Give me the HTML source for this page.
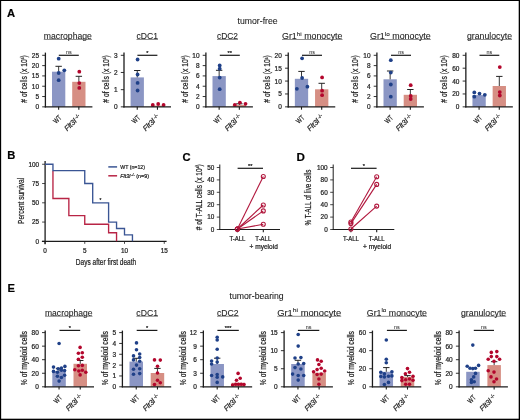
<!DOCTYPE html>
<html><head><meta charset="utf-8"><style>
html,body{margin:0;padding:0;background:#fff;}
svg{display:block;font-family:"Liberation Sans", sans-serif;will-change:transform;filter:blur(0.3px);}
text{stroke:#1e1e1e;stroke-width:0.22px;}
</style></head><body>
<svg width="520" height="420" viewBox="0 0 520 420">
<rect x="0" y="0" width="520" height="420" fill="#fff"/>
<rect x="0" y="0" width="1.15" height="420" fill="#000"/>
<rect x="0" y="0" width="520" height="1.0" fill="#000"/>
<rect x="518.7" y="0" width="1.3" height="420" fill="#000"/>
<rect x="0" y="418.7" width="520" height="1.3" fill="#000"/>
<text x="7.00" y="17.00" font-size="11.2" text-anchor="start" fill="#000" font-weight="bold">A</text>
<text x="7.20" y="158.80" font-size="11.2" text-anchor="start" fill="#000" font-weight="bold">B</text>
<text x="182.40" y="161.00" font-size="11.2" text-anchor="start" fill="#000" font-weight="bold">C</text>
<text x="296.50" y="161.00" font-size="11.6" text-anchor="start" fill="#000" font-weight="bold">D</text>
<text x="7.60" y="292.00" font-size="11.2" text-anchor="start" fill="#000" font-weight="bold">E</text>
<text x="257.6" y="23.9" font-size="8.2" text-anchor="middle" fill="#222" style="stroke-width:0.08px" textLength="40" lengthAdjust="spacingAndGlyphs">tumor-free</text>
<text x="256.6" y="298.6" font-size="8.2" text-anchor="middle" fill="#222" style="stroke-width:0.08px" textLength="54.2" lengthAdjust="spacingAndGlyphs">tumor-bearing</text>
<text x="43.80" y="38.80" font-size="8.2" fill="#222" style="stroke-width:0.08px" textLength="48.10" lengthAdjust="spacingAndGlyphs"><tspan dy="0">macrophage</tspan></text>
<line x1="43.80" y1="39.50" x2="91.90" y2="39.50" stroke="#444" stroke-width="0.6" />
<text x="136.50" y="38.80" font-size="8.2" fill="#222" style="stroke-width:0.08px" textLength="21.50" lengthAdjust="spacingAndGlyphs"><tspan dy="0">cDC1</tspan></text>
<line x1="136.50" y1="39.50" x2="158.00" y2="39.50" stroke="#444" stroke-width="0.6" />
<text x="217.00" y="38.80" font-size="8.2" fill="#222" style="stroke-width:0.08px" textLength="21.00" lengthAdjust="spacingAndGlyphs"><tspan dy="0">cDC2</tspan></text>
<line x1="217.00" y1="39.50" x2="238.00" y2="39.50" stroke="#444" stroke-width="0.6" />
<text x="282.00" y="38.80" font-size="8.2" fill="#222" style="stroke-width:0.08px" textLength="60.50" lengthAdjust="spacingAndGlyphs"><tspan dy="0">Gr1</tspan><tspan font-size="5.90" dy="-3.3">hi</tspan><tspan dy="3.3"> monocyte</tspan></text>
<line x1="282.00" y1="39.50" x2="342.50" y2="39.50" stroke="#444" stroke-width="0.6" />
<text x="370.00" y="38.80" font-size="8.2" fill="#222" style="stroke-width:0.08px" textLength="60.80" lengthAdjust="spacingAndGlyphs"><tspan dy="0">Gr1</tspan><tspan font-size="5.90" dy="-3.3">lo</tspan><tspan dy="3.3"> monocyte</tspan></text>
<line x1="370.00" y1="39.50" x2="430.80" y2="39.50" stroke="#444" stroke-width="0.6" />
<text x="467.00" y="38.80" font-size="8.2" fill="#222" style="stroke-width:0.08px" textLength="45.00" lengthAdjust="spacingAndGlyphs"><tspan dy="0">granulocyte</tspan></text>
<line x1="467.00" y1="39.50" x2="512.00" y2="39.50" stroke="#444" stroke-width="0.6" />
<text x="45.00" y="315.60" font-size="8.2" fill="#222" style="stroke-width:0.08px" textLength="47.50" lengthAdjust="spacingAndGlyphs"><tspan dy="0">macrophage</tspan></text>
<line x1="45.00" y1="316.30" x2="92.50" y2="316.30" stroke="#444" stroke-width="0.6" />
<text x="136.30" y="315.60" font-size="8.2" fill="#222" style="stroke-width:0.08px" textLength="21.70" lengthAdjust="spacingAndGlyphs"><tspan dy="0">cDC1</tspan></text>
<line x1="136.30" y1="316.30" x2="158.00" y2="316.30" stroke="#444" stroke-width="0.6" />
<text x="217.00" y="315.60" font-size="8.2" fill="#222" style="stroke-width:0.08px" textLength="21.70" lengthAdjust="spacingAndGlyphs"><tspan dy="0">cDC2</tspan></text>
<line x1="217.00" y1="316.30" x2="238.70" y2="316.30" stroke="#444" stroke-width="0.6" />
<text x="277.20" y="315.60" font-size="8.2" fill="#222" style="stroke-width:0.08px" textLength="64.00" lengthAdjust="spacingAndGlyphs"><tspan dy="0">Gr1</tspan><tspan font-size="5.90" dy="-3.3">hi</tspan><tspan dy="3.3"> monocyte</tspan></text>
<line x1="277.20" y1="316.30" x2="341.20" y2="316.30" stroke="#444" stroke-width="0.6" />
<text x="366.80" y="315.60" font-size="8.2" fill="#222" style="stroke-width:0.08px" textLength="60.20" lengthAdjust="spacingAndGlyphs"><tspan dy="0">Gr1</tspan><tspan font-size="5.90" dy="-3.3">lo</tspan><tspan dy="3.3"> monocyte</tspan></text>
<line x1="366.80" y1="316.30" x2="427.00" y2="316.30" stroke="#444" stroke-width="0.6" />
<text x="461.00" y="315.60" font-size="8.2" fill="#222" style="stroke-width:0.08px" textLength="45.20" lengthAdjust="spacingAndGlyphs"><tspan dy="0">granulocyte</tspan></text>
<line x1="461.00" y1="316.30" x2="506.20" y2="316.30" stroke="#444" stroke-width="0.6" />
<rect x="52.00" y="71.70" width="13.30" height="35.15" fill="#8b96c4" stroke="none" stroke-width="0"/>
<rect x="72.20" y="81.80" width="13.30" height="25.05" fill="#d68f84" stroke="none" stroke-width="0"/>
<line x1="58.65" y1="71.70" x2="58.65" y2="66.30" stroke="#222" stroke-width="0.9" />
<line x1="55.45" y1="66.30" x2="61.85" y2="66.30" stroke="#222" stroke-width="1.0" />
<line x1="78.85" y1="81.80" x2="78.85" y2="76.30" stroke="#222" stroke-width="0.9" />
<line x1="75.65" y1="76.30" x2="82.05" y2="76.30" stroke="#222" stroke-width="1.0" />
<circle cx="58.70" cy="58.70" r="1.9" fill="#1f4088" stroke="none" stroke-width="0"/>
<circle cx="58.70" cy="73.00" r="1.9" fill="#1f4088" stroke="none" stroke-width="0"/>
<circle cx="58.70" cy="80.20" r="1.9" fill="#1f4088" stroke="none" stroke-width="0"/>
<circle cx="64.30" cy="70.30" r="1.9" fill="#1f4088" stroke="none" stroke-width="0"/>
<circle cx="79.30" cy="71.70" r="1.9" fill="#b3062c" stroke="none" stroke-width="0"/>
<circle cx="79.30" cy="83.10" r="1.9" fill="#b3062c" stroke="none" stroke-width="0"/>
<circle cx="79.30" cy="87.90" r="1.9" fill="#b3062c" stroke="none" stroke-width="0"/>
<line x1="45.40" y1="52.60" x2="45.40" y2="107.45" stroke="#1c1c1c" stroke-width="1.3" />
<line x1="44.80" y1="106.85" x2="92.40" y2="106.85" stroke="#1c1c1c" stroke-width="1.3" />
<line x1="42.20" y1="106.85" x2="45.40" y2="106.85" stroke="#1c1c1c" stroke-width="0.9" />
<text x="39.00" y="109.35" font-size="6.5" text-anchor="end" fill="#1e1e1e">0</text>
<line x1="42.20" y1="96.54" x2="45.40" y2="96.54" stroke="#1c1c1c" stroke-width="0.9" />
<text x="39.00" y="99.04" font-size="6.5" text-anchor="end" fill="#1e1e1e">5</text>
<line x1="42.20" y1="86.23" x2="45.40" y2="86.23" stroke="#1c1c1c" stroke-width="0.9" />
<text x="39.00" y="88.73" font-size="6.5" text-anchor="end" fill="#1e1e1e">10</text>
<line x1="42.20" y1="75.92" x2="45.40" y2="75.92" stroke="#1c1c1c" stroke-width="0.9" />
<text x="39.00" y="78.42" font-size="6.5" text-anchor="end" fill="#1e1e1e">15</text>
<line x1="42.20" y1="65.61" x2="45.40" y2="65.61" stroke="#1c1c1c" stroke-width="0.9" />
<text x="39.00" y="68.11" font-size="6.5" text-anchor="end" fill="#1e1e1e">20</text>
<line x1="42.20" y1="55.30" x2="45.40" y2="55.30" stroke="#1c1c1c" stroke-width="0.9" />
<text x="39.00" y="57.80" font-size="6.5" text-anchor="end" fill="#1e1e1e">25</text>
<line x1="58.65" y1="106.85" x2="58.65" y2="109.65" stroke="#1c1c1c" stroke-width="1.1" />
<line x1="78.85" y1="106.85" x2="78.85" y2="109.65" stroke="#1c1c1c" stroke-width="1.1" />
<line x1="58.80" y1="55.30" x2="78.80" y2="55.30" stroke="#1a1a1a" stroke-width="1.2" />
<text x="68.80" y="53.60" font-size="5.4" text-anchor="middle" fill="#333" style="stroke-width:0.05px">ns</text>
<text x="0" y="0" font-size="9.2" fill="#1e1e1e" text-anchor="middle" textLength="47.5" lengthAdjust="spacingAndGlyphs" transform="translate(26.70,79.00) rotate(-90)"># of cells (x 10<tspan font-size="4.2" dy="-2.6">5</tspan><tspan dy="2.6">)</tspan></text>
<text x="0.00" y="0.00" font-size="7.4" text-anchor="end" fill="#1e1e1e" textLength="8.2" lengthAdjust="spacingAndGlyphs" transform="translate(62.05,118.15) rotate(-45)">WT</text>
<text x="0" y="0" font-size="7.4" text-anchor="end" fill="#1e1e1e" transform="translate(81.45,117.35) rotate(-45)"><tspan font-style="italic">Flt3l</tspan><tspan font-size="5.0" dy="-2.2"> -/-</tspan></text>
<rect x="130.60" y="77.40" width="13.30" height="29.45" fill="#8b96c4" stroke="none" stroke-width="0"/>
<rect x="150.80" y="105.60" width="13.30" height="1.25" fill="#d68f84" stroke="none" stroke-width="0"/>
<line x1="137.25" y1="77.40" x2="137.25" y2="70.50" stroke="#222" stroke-width="0.9" />
<line x1="134.05" y1="70.50" x2="140.45" y2="70.50" stroke="#222" stroke-width="1.0" />
<circle cx="137.60" cy="59.50" r="1.9" fill="#1f4088" stroke="none" stroke-width="0"/>
<circle cx="137.60" cy="74.50" r="1.9" fill="#1f4088" stroke="none" stroke-width="0"/>
<circle cx="137.60" cy="82.90" r="1.9" fill="#1f4088" stroke="none" stroke-width="0"/>
<circle cx="137.60" cy="90.50" r="1.9" fill="#1f4088" stroke="none" stroke-width="0"/>
<circle cx="152.80" cy="105.00" r="1.9" fill="#b3062c" stroke="none" stroke-width="0"/>
<circle cx="158.20" cy="104.00" r="1.9" fill="#b3062c" stroke="none" stroke-width="0"/>
<circle cx="163.60" cy="105.00" r="1.9" fill="#b3062c" stroke="none" stroke-width="0"/>
<line x1="124.00" y1="52.60" x2="124.00" y2="107.45" stroke="#1c1c1c" stroke-width="1.3" />
<line x1="123.40" y1="106.85" x2="171.00" y2="106.85" stroke="#1c1c1c" stroke-width="1.3" />
<line x1="120.80" y1="106.85" x2="124.00" y2="106.85" stroke="#1c1c1c" stroke-width="0.9" />
<text x="117.60" y="109.35" font-size="6.5" text-anchor="end" fill="#1e1e1e">0</text>
<line x1="120.80" y1="89.67" x2="124.00" y2="89.67" stroke="#1c1c1c" stroke-width="0.9" />
<text x="117.60" y="92.17" font-size="6.5" text-anchor="end" fill="#1e1e1e">1</text>
<line x1="120.80" y1="72.48" x2="124.00" y2="72.48" stroke="#1c1c1c" stroke-width="0.9" />
<text x="117.60" y="74.98" font-size="6.5" text-anchor="end" fill="#1e1e1e">2</text>
<line x1="120.80" y1="55.30" x2="124.00" y2="55.30" stroke="#1c1c1c" stroke-width="0.9" />
<text x="117.60" y="57.80" font-size="6.5" text-anchor="end" fill="#1e1e1e">3</text>
<line x1="137.25" y1="106.85" x2="137.25" y2="109.65" stroke="#1c1c1c" stroke-width="1.1" />
<line x1="157.45" y1="106.85" x2="157.45" y2="109.65" stroke="#1c1c1c" stroke-width="1.1" />
<line x1="137.40" y1="55.30" x2="157.40" y2="55.30" stroke="#1a1a1a" stroke-width="1.2" />
<text x="147.40" y="55.00" font-size="5.6" text-anchor="middle" fill="#111">*</text>
<text x="0" y="0" font-size="9.2" fill="#1e1e1e" text-anchor="middle" textLength="47.5" lengthAdjust="spacingAndGlyphs" transform="translate(109.00,79.00) rotate(-90)"># of cells (x 10<tspan font-size="4.2" dy="-2.6">5</tspan><tspan dy="2.6">)</tspan></text>
<text x="0.00" y="0.00" font-size="7.4" text-anchor="end" fill="#1e1e1e" textLength="8.2" lengthAdjust="spacingAndGlyphs" transform="translate(140.65,118.15) rotate(-45)">WT</text>
<text x="0" y="0" font-size="7.4" text-anchor="end" fill="#1e1e1e" transform="translate(160.05,117.35) rotate(-45)"><tspan font-style="italic">Flt3l</tspan><tspan font-size="5.0" dy="-2.2"> -/-</tspan></text>
<rect x="212.50" y="76.10" width="13.30" height="30.75" fill="#8b96c4" stroke="none" stroke-width="0"/>
<rect x="232.70" y="105.00" width="13.30" height="1.85" fill="#d68f84" stroke="none" stroke-width="0"/>
<line x1="219.15" y1="76.10" x2="219.15" y2="70.30" stroke="#222" stroke-width="0.9" />
<line x1="215.95" y1="70.30" x2="222.35" y2="70.30" stroke="#222" stroke-width="1.0" />
<line x1="239.35" y1="105.00" x2="239.35" y2="103.80" stroke="#222" stroke-width="0.9" />
<line x1="236.15" y1="103.80" x2="242.55" y2="103.80" stroke="#222" stroke-width="1.0" />
<circle cx="219.70" cy="65.40" r="1.9" fill="#1f4088" stroke="none" stroke-width="0"/>
<circle cx="219.70" cy="68.70" r="1.9" fill="#1f4088" stroke="none" stroke-width="0"/>
<circle cx="219.70" cy="77.60" r="1.9" fill="#1f4088" stroke="none" stroke-width="0"/>
<circle cx="219.70" cy="89.20" r="1.9" fill="#1f4088" stroke="none" stroke-width="0"/>
<circle cx="234.80" cy="104.80" r="1.9" fill="#b3062c" stroke="none" stroke-width="0"/>
<circle cx="239.90" cy="102.60" r="1.9" fill="#b3062c" stroke="none" stroke-width="0"/>
<circle cx="245.50" cy="103.80" r="1.9" fill="#b3062c" stroke="none" stroke-width="0"/>
<line x1="205.90" y1="52.60" x2="205.90" y2="107.45" stroke="#1c1c1c" stroke-width="1.3" />
<line x1="205.30" y1="106.85" x2="252.90" y2="106.85" stroke="#1c1c1c" stroke-width="1.3" />
<line x1="202.70" y1="106.85" x2="205.90" y2="106.85" stroke="#1c1c1c" stroke-width="0.9" />
<text x="199.50" y="109.35" font-size="6.5" text-anchor="end" fill="#1e1e1e">0</text>
<line x1="202.70" y1="96.54" x2="205.90" y2="96.54" stroke="#1c1c1c" stroke-width="0.9" />
<text x="199.50" y="99.04" font-size="6.5" text-anchor="end" fill="#1e1e1e">2</text>
<line x1="202.70" y1="86.23" x2="205.90" y2="86.23" stroke="#1c1c1c" stroke-width="0.9" />
<text x="199.50" y="88.73" font-size="6.5" text-anchor="end" fill="#1e1e1e">4</text>
<line x1="202.70" y1="75.92" x2="205.90" y2="75.92" stroke="#1c1c1c" stroke-width="0.9" />
<text x="199.50" y="78.42" font-size="6.5" text-anchor="end" fill="#1e1e1e">6</text>
<line x1="202.70" y1="65.61" x2="205.90" y2="65.61" stroke="#1c1c1c" stroke-width="0.9" />
<text x="199.50" y="68.11" font-size="6.5" text-anchor="end" fill="#1e1e1e">8</text>
<line x1="202.70" y1="55.30" x2="205.90" y2="55.30" stroke="#1c1c1c" stroke-width="0.9" />
<text x="199.50" y="57.80" font-size="6.5" text-anchor="end" fill="#1e1e1e">10</text>
<line x1="219.15" y1="106.85" x2="219.15" y2="109.65" stroke="#1c1c1c" stroke-width="1.1" />
<line x1="239.35" y1="106.85" x2="239.35" y2="109.65" stroke="#1c1c1c" stroke-width="1.1" />
<line x1="219.80" y1="55.30" x2="239.80" y2="55.30" stroke="#1a1a1a" stroke-width="1.2" />
<text x="229.80" y="55.00" font-size="5.6" text-anchor="middle" fill="#111">**</text>
<text x="0" y="0" font-size="9.2" fill="#1e1e1e" text-anchor="middle" textLength="47.5" lengthAdjust="spacingAndGlyphs" transform="translate(187.80,79.00) rotate(-90)"># of cells (x 10<tspan font-size="4.2" dy="-2.6">5</tspan><tspan dy="2.6">)</tspan></text>
<text x="0.00" y="0.00" font-size="7.4" text-anchor="end" fill="#1e1e1e" textLength="8.2" lengthAdjust="spacingAndGlyphs" transform="translate(222.55,118.15) rotate(-45)">WT</text>
<text x="0" y="0" font-size="7.4" text-anchor="end" fill="#1e1e1e" transform="translate(241.95,117.35) rotate(-45)"><tspan font-style="italic">Flt3l</tspan><tspan font-size="5.0" dy="-2.2"> -/-</tspan></text>
<rect x="294.85" y="78.80" width="13.30" height="28.05" fill="#8b96c4" stroke="none" stroke-width="0"/>
<rect x="315.05" y="89.30" width="13.30" height="17.55" fill="#d68f84" stroke="none" stroke-width="0"/>
<line x1="301.50" y1="78.80" x2="301.50" y2="71.40" stroke="#222" stroke-width="0.9" />
<line x1="298.30" y1="71.40" x2="304.70" y2="71.40" stroke="#222" stroke-width="1.0" />
<line x1="321.70" y1="89.30" x2="321.70" y2="83.30" stroke="#222" stroke-width="0.9" />
<line x1="318.50" y1="83.30" x2="324.90" y2="83.30" stroke="#222" stroke-width="1.0" />
<circle cx="302.10" cy="58.30" r="1.9" fill="#1f4088" stroke="none" stroke-width="0"/>
<circle cx="302.10" cy="78.00" r="1.9" fill="#1f4088" stroke="none" stroke-width="0"/>
<circle cx="296.90" cy="88.80" r="1.9" fill="#1f4088" stroke="none" stroke-width="0"/>
<circle cx="307.40" cy="86.70" r="1.9" fill="#1f4088" stroke="none" stroke-width="0"/>
<circle cx="322.10" cy="77.40" r="1.9" fill="#b3062c" stroke="none" stroke-width="0"/>
<circle cx="322.10" cy="90.70" r="1.9" fill="#b3062c" stroke="none" stroke-width="0"/>
<circle cx="322.10" cy="95.20" r="1.9" fill="#b3062c" stroke="none" stroke-width="0"/>
<line x1="288.25" y1="52.60" x2="288.25" y2="107.45" stroke="#1c1c1c" stroke-width="1.3" />
<line x1="287.65" y1="106.85" x2="335.25" y2="106.85" stroke="#1c1c1c" stroke-width="1.3" />
<line x1="285.05" y1="106.85" x2="288.25" y2="106.85" stroke="#1c1c1c" stroke-width="0.9" />
<text x="281.85" y="109.35" font-size="6.5" text-anchor="end" fill="#1e1e1e">0</text>
<line x1="285.05" y1="93.96" x2="288.25" y2="93.96" stroke="#1c1c1c" stroke-width="0.9" />
<text x="281.85" y="96.46" font-size="6.5" text-anchor="end" fill="#1e1e1e">5</text>
<line x1="285.05" y1="81.07" x2="288.25" y2="81.07" stroke="#1c1c1c" stroke-width="0.9" />
<text x="281.85" y="83.57" font-size="6.5" text-anchor="end" fill="#1e1e1e">10</text>
<line x1="285.05" y1="68.19" x2="288.25" y2="68.19" stroke="#1c1c1c" stroke-width="0.9" />
<text x="281.85" y="70.69" font-size="6.5" text-anchor="end" fill="#1e1e1e">15</text>
<line x1="285.05" y1="55.30" x2="288.25" y2="55.30" stroke="#1c1c1c" stroke-width="0.9" />
<text x="281.85" y="57.80" font-size="6.5" text-anchor="end" fill="#1e1e1e">20</text>
<line x1="301.50" y1="106.85" x2="301.50" y2="109.65" stroke="#1c1c1c" stroke-width="1.1" />
<line x1="321.70" y1="106.85" x2="321.70" y2="109.65" stroke="#1c1c1c" stroke-width="1.1" />
<line x1="302.00" y1="55.30" x2="322.00" y2="55.30" stroke="#1a1a1a" stroke-width="1.2" />
<text x="312.00" y="53.60" font-size="5.4" text-anchor="middle" fill="#333" style="stroke-width:0.05px">ns</text>
<text x="0" y="0" font-size="9.2" fill="#1e1e1e" text-anchor="middle" textLength="47.5" lengthAdjust="spacingAndGlyphs" transform="translate(270.20,79.00) rotate(-90)"># of cells (x 10<tspan font-size="4.2" dy="-2.6">5</tspan><tspan dy="2.6">)</tspan></text>
<text x="0.00" y="0.00" font-size="7.4" text-anchor="end" fill="#1e1e1e" textLength="8.2" lengthAdjust="spacingAndGlyphs" transform="translate(304.90,118.15) rotate(-45)">WT</text>
<text x="0" y="0" font-size="7.4" text-anchor="end" fill="#1e1e1e" transform="translate(324.30,117.35) rotate(-45)"><tspan font-style="italic">Flt3l</tspan><tspan font-size="5.0" dy="-2.2"> -/-</tspan></text>
<rect x="383.50" y="79.30" width="13.30" height="27.55" fill="#8b96c4" stroke="none" stroke-width="0"/>
<rect x="403.70" y="94.80" width="13.30" height="12.05" fill="#d68f84" stroke="none" stroke-width="0"/>
<line x1="390.15" y1="79.30" x2="390.15" y2="71.00" stroke="#222" stroke-width="0.9" />
<line x1="386.95" y1="71.00" x2="393.35" y2="71.00" stroke="#222" stroke-width="1.0" />
<line x1="410.35" y1="94.80" x2="410.35" y2="89.50" stroke="#222" stroke-width="0.9" />
<line x1="407.15" y1="89.50" x2="413.55" y2="89.50" stroke="#222" stroke-width="1.0" />
<circle cx="390.80" cy="60.20" r="1.9" fill="#1f4088" stroke="none" stroke-width="0"/>
<circle cx="390.80" cy="72.60" r="1.9" fill="#1f4088" stroke="none" stroke-width="0"/>
<circle cx="390.80" cy="84.50" r="1.9" fill="#1f4088" stroke="none" stroke-width="0"/>
<circle cx="390.80" cy="96.70" r="1.9" fill="#1f4088" stroke="none" stroke-width="0"/>
<circle cx="410.70" cy="85.20" r="1.9" fill="#b3062c" stroke="none" stroke-width="0"/>
<circle cx="410.70" cy="96.00" r="1.9" fill="#b3062c" stroke="none" stroke-width="0"/>
<circle cx="410.70" cy="99.00" r="1.9" fill="#b3062c" stroke="none" stroke-width="0"/>
<line x1="376.90" y1="52.60" x2="376.90" y2="107.45" stroke="#1c1c1c" stroke-width="1.3" />
<line x1="376.30" y1="106.85" x2="423.90" y2="106.85" stroke="#1c1c1c" stroke-width="1.3" />
<line x1="373.70" y1="106.85" x2="376.90" y2="106.85" stroke="#1c1c1c" stroke-width="0.9" />
<text x="370.50" y="109.35" font-size="6.5" text-anchor="end" fill="#1e1e1e">0</text>
<line x1="373.70" y1="96.54" x2="376.90" y2="96.54" stroke="#1c1c1c" stroke-width="0.9" />
<text x="370.50" y="99.04" font-size="6.5" text-anchor="end" fill="#1e1e1e">2</text>
<line x1="373.70" y1="86.23" x2="376.90" y2="86.23" stroke="#1c1c1c" stroke-width="0.9" />
<text x="370.50" y="88.73" font-size="6.5" text-anchor="end" fill="#1e1e1e">4</text>
<line x1="373.70" y1="75.92" x2="376.90" y2="75.92" stroke="#1c1c1c" stroke-width="0.9" />
<text x="370.50" y="78.42" font-size="6.5" text-anchor="end" fill="#1e1e1e">6</text>
<line x1="373.70" y1="65.61" x2="376.90" y2="65.61" stroke="#1c1c1c" stroke-width="0.9" />
<text x="370.50" y="68.11" font-size="6.5" text-anchor="end" fill="#1e1e1e">8</text>
<line x1="373.70" y1="55.30" x2="376.90" y2="55.30" stroke="#1c1c1c" stroke-width="0.9" />
<text x="370.50" y="57.80" font-size="6.5" text-anchor="end" fill="#1e1e1e">10</text>
<line x1="390.15" y1="106.85" x2="390.15" y2="109.65" stroke="#1c1c1c" stroke-width="1.1" />
<line x1="410.35" y1="106.85" x2="410.35" y2="109.65" stroke="#1c1c1c" stroke-width="1.1" />
<line x1="391.00" y1="55.30" x2="411.00" y2="55.30" stroke="#1a1a1a" stroke-width="1.2" />
<text x="401.00" y="53.60" font-size="5.4" text-anchor="middle" fill="#333" style="stroke-width:0.05px">ns</text>
<text x="0" y="0" font-size="9.2" fill="#1e1e1e" text-anchor="middle" textLength="47.5" lengthAdjust="spacingAndGlyphs" transform="translate(358.20,79.00) rotate(-90)"># of cells (x 10<tspan font-size="4.2" dy="-2.6">5</tspan><tspan dy="2.6">)</tspan></text>
<text x="0.00" y="0.00" font-size="7.4" text-anchor="end" fill="#1e1e1e" textLength="8.2" lengthAdjust="spacingAndGlyphs" transform="translate(393.55,118.15) rotate(-45)">WT</text>
<text x="0" y="0" font-size="7.4" text-anchor="end" fill="#1e1e1e" transform="translate(412.95,117.35) rotate(-45)"><tspan font-style="italic">Flt3l</tspan><tspan font-size="5.0" dy="-2.2"> -/-</tspan></text>
<rect x="472.45" y="95.10" width="13.30" height="11.75" fill="#8b96c4" stroke="none" stroke-width="0"/>
<rect x="492.65" y="86.00" width="13.30" height="20.85" fill="#d68f84" stroke="none" stroke-width="0"/>
<line x1="499.30" y1="86.00" x2="499.30" y2="76.40" stroke="#222" stroke-width="0.9" />
<line x1="496.10" y1="76.40" x2="502.50" y2="76.40" stroke="#222" stroke-width="1.0" />
<circle cx="474.30" cy="92.40" r="1.9" fill="#1f4088" stroke="none" stroke-width="0"/>
<circle cx="474.30" cy="96.70" r="1.9" fill="#1f4088" stroke="none" stroke-width="0"/>
<circle cx="479.50" cy="93.60" r="1.9" fill="#1f4088" stroke="none" stroke-width="0"/>
<circle cx="484.80" cy="94.80" r="1.9" fill="#1f4088" stroke="none" stroke-width="0"/>
<circle cx="499.80" cy="67.10" r="1.9" fill="#b3062c" stroke="none" stroke-width="0"/>
<circle cx="499.80" cy="92.10" r="1.9" fill="#b3062c" stroke="none" stroke-width="0"/>
<circle cx="499.80" cy="95.50" r="1.9" fill="#b3062c" stroke="none" stroke-width="0"/>
<line x1="465.85" y1="52.60" x2="465.85" y2="107.45" stroke="#1c1c1c" stroke-width="1.3" />
<line x1="465.25" y1="106.85" x2="512.85" y2="106.85" stroke="#1c1c1c" stroke-width="1.3" />
<line x1="462.65" y1="106.85" x2="465.85" y2="106.85" stroke="#1c1c1c" stroke-width="0.9" />
<text x="459.45" y="109.35" font-size="6.5" text-anchor="end" fill="#1e1e1e">0</text>
<line x1="462.65" y1="93.96" x2="465.85" y2="93.96" stroke="#1c1c1c" stroke-width="0.9" />
<text x="459.45" y="96.46" font-size="6.5" text-anchor="end" fill="#1e1e1e">20</text>
<line x1="462.65" y1="81.07" x2="465.85" y2="81.07" stroke="#1c1c1c" stroke-width="0.9" />
<text x="459.45" y="83.57" font-size="6.5" text-anchor="end" fill="#1e1e1e">40</text>
<line x1="462.65" y1="68.19" x2="465.85" y2="68.19" stroke="#1c1c1c" stroke-width="0.9" />
<text x="459.45" y="70.69" font-size="6.5" text-anchor="end" fill="#1e1e1e">60</text>
<line x1="462.65" y1="55.30" x2="465.85" y2="55.30" stroke="#1c1c1c" stroke-width="0.9" />
<text x="459.45" y="57.80" font-size="6.5" text-anchor="end" fill="#1e1e1e">80</text>
<line x1="479.10" y1="106.85" x2="479.10" y2="109.65" stroke="#1c1c1c" stroke-width="1.1" />
<line x1="499.30" y1="106.85" x2="499.30" y2="109.65" stroke="#1c1c1c" stroke-width="1.1" />
<line x1="479.50" y1="55.30" x2="499.30" y2="55.30" stroke="#1a1a1a" stroke-width="1.2" />
<text x="489.40" y="53.60" font-size="5.4" text-anchor="middle" fill="#333" style="stroke-width:0.05px">ns</text>
<text x="0" y="0" font-size="9.2" fill="#1e1e1e" text-anchor="middle" textLength="47.5" lengthAdjust="spacingAndGlyphs" transform="translate(447.15,79.00) rotate(-90)"># of cells (x 10<tspan font-size="4.2" dy="-2.6">5</tspan><tspan dy="2.6">)</tspan></text>
<text x="0.00" y="0.00" font-size="7.4" text-anchor="end" fill="#1e1e1e" textLength="8.2" lengthAdjust="spacingAndGlyphs" transform="translate(482.50,118.15) rotate(-45)">WT</text>
<text x="0" y="0" font-size="7.4" text-anchor="end" fill="#1e1e1e" transform="translate(501.90,117.35) rotate(-45)"><tspan font-style="italic">Flt3l</tspan><tspan font-size="5.0" dy="-2.2"> -/-</tspan></text>
<rect x="52.30" y="371.00" width="13.50" height="15.80" fill="#8b96c4" stroke="none" stroke-width="0"/>
<rect x="73.50" y="363.80" width="13.50" height="23.00" fill="#d68f84" stroke="none" stroke-width="0"/>
<line x1="59.05" y1="371.00" x2="59.05" y2="368.40" stroke="#222" stroke-width="0.9" />
<line x1="55.85" y1="368.40" x2="62.25" y2="368.40" stroke="#222" stroke-width="1.0" />
<line x1="80.25" y1="363.80" x2="80.25" y2="360.50" stroke="#222" stroke-width="0.9" />
<line x1="77.05" y1="360.50" x2="83.45" y2="360.50" stroke="#222" stroke-width="1.0" />
<circle cx="59.10" cy="343.50" r="1.8" fill="#1f4088" stroke="none" stroke-width="0"/>
<circle cx="53.50" cy="367.10" r="1.8" fill="#1f4088" stroke="none" stroke-width="0"/>
<circle cx="58.10" cy="368.80" r="1.8" fill="#1f4088" stroke="none" stroke-width="0"/>
<circle cx="61.40" cy="368.00" r="1.8" fill="#1f4088" stroke="none" stroke-width="0"/>
<circle cx="64.90" cy="366.40" r="1.8" fill="#1f4088" stroke="none" stroke-width="0"/>
<circle cx="53.50" cy="371.40" r="1.8" fill="#1f4088" stroke="none" stroke-width="0"/>
<circle cx="57.40" cy="372.30" r="1.8" fill="#1f4088" stroke="none" stroke-width="0"/>
<circle cx="61.40" cy="370.30" r="1.8" fill="#1f4088" stroke="none" stroke-width="0"/>
<circle cx="64.60" cy="370.60" r="1.8" fill="#1f4088" stroke="none" stroke-width="0"/>
<circle cx="57.40" cy="376.20" r="1.8" fill="#1f4088" stroke="none" stroke-width="0"/>
<circle cx="61.40" cy="377.50" r="1.8" fill="#1f4088" stroke="none" stroke-width="0"/>
<circle cx="64.60" cy="375.30" r="1.8" fill="#1f4088" stroke="none" stroke-width="0"/>
<circle cx="59.10" cy="381.10" r="1.8" fill="#1f4088" stroke="none" stroke-width="0"/>
<circle cx="80.10" cy="347.40" r="1.8" fill="#b3062c" stroke="none" stroke-width="0"/>
<circle cx="78.40" cy="353.30" r="1.8" fill="#b3062c" stroke="none" stroke-width="0"/>
<circle cx="82.30" cy="352.70" r="1.8" fill="#b3062c" stroke="none" stroke-width="0"/>
<circle cx="82.30" cy="357.30" r="1.8" fill="#b3062c" stroke="none" stroke-width="0"/>
<circle cx="78.40" cy="359.20" r="1.8" fill="#b3062c" stroke="none" stroke-width="0"/>
<circle cx="78.40" cy="365.80" r="1.8" fill="#b3062c" stroke="none" stroke-width="0"/>
<circle cx="82.30" cy="365.40" r="1.8" fill="#b3062c" stroke="none" stroke-width="0"/>
<circle cx="74.80" cy="369.70" r="1.8" fill="#b3062c" stroke="none" stroke-width="0"/>
<circle cx="78.80" cy="371.00" r="1.8" fill="#b3062c" stroke="none" stroke-width="0"/>
<circle cx="82.30" cy="370.30" r="1.8" fill="#b3062c" stroke="none" stroke-width="0"/>
<circle cx="85.80" cy="372.30" r="1.8" fill="#b3062c" stroke="none" stroke-width="0"/>
<circle cx="80.10" cy="374.90" r="1.8" fill="#b3062c" stroke="none" stroke-width="0"/>
<line x1="45.20" y1="330.60" x2="45.20" y2="387.40" stroke="#1c1c1c" stroke-width="1.3" />
<line x1="44.60" y1="386.80" x2="94.00" y2="386.80" stroke="#1c1c1c" stroke-width="1.3" />
<line x1="42.00" y1="386.80" x2="45.20" y2="386.80" stroke="#1c1c1c" stroke-width="0.9" />
<text x="38.80" y="389.30" font-size="6.5" text-anchor="end" fill="#1e1e1e">0</text>
<line x1="42.00" y1="373.25" x2="45.20" y2="373.25" stroke="#1c1c1c" stroke-width="0.9" />
<text x="38.80" y="375.75" font-size="6.5" text-anchor="end" fill="#1e1e1e">20</text>
<line x1="42.00" y1="359.70" x2="45.20" y2="359.70" stroke="#1c1c1c" stroke-width="0.9" />
<text x="38.80" y="362.20" font-size="6.5" text-anchor="end" fill="#1e1e1e">40</text>
<line x1="42.00" y1="346.15" x2="45.20" y2="346.15" stroke="#1c1c1c" stroke-width="0.9" />
<text x="38.80" y="348.65" font-size="6.5" text-anchor="end" fill="#1e1e1e">60</text>
<line x1="42.00" y1="332.60" x2="45.20" y2="332.60" stroke="#1c1c1c" stroke-width="0.9" />
<text x="38.80" y="335.10" font-size="6.5" text-anchor="end" fill="#1e1e1e">80</text>
<line x1="59.05" y1="386.80" x2="59.05" y2="389.60" stroke="#1c1c1c" stroke-width="1.1" />
<line x1="80.25" y1="386.80" x2="80.25" y2="389.60" stroke="#1c1c1c" stroke-width="1.1" />
<line x1="59.50" y1="330.40" x2="80.20" y2="330.40" stroke="#1a1a1a" stroke-width="1.2" />
<text x="69.85" y="330.10" font-size="5.6" text-anchor="middle" fill="#111">*</text>
<text x="0" y="0" font-size="8.4" fill="#1e1e1e" text-anchor="middle" textLength="54" lengthAdjust="spacingAndGlyphs" transform="translate(27.00,358.20) rotate(-90)">% of myeloid cells</text>
<text x="0.00" y="0.00" font-size="7.4" text-anchor="end" fill="#1e1e1e" textLength="8.2" lengthAdjust="spacingAndGlyphs" transform="translate(62.45,398.10) rotate(-45)">WT</text>
<text x="0" y="0" font-size="7.4" text-anchor="end" fill="#1e1e1e" transform="translate(82.85,397.30) rotate(-45)"><tspan font-style="italic">Flt3l</tspan><tspan font-size="5.0" dy="-2.2"> -/-</tspan></text>
<rect x="129.50" y="361.60" width="13.50" height="25.20" fill="#8b96c4" stroke="none" stroke-width="0"/>
<rect x="150.70" y="373.00" width="13.50" height="13.80" fill="#d68f84" stroke="none" stroke-width="0"/>
<line x1="136.25" y1="361.60" x2="136.25" y2="358.30" stroke="#222" stroke-width="0.9" />
<line x1="133.05" y1="358.30" x2="139.45" y2="358.30" stroke="#222" stroke-width="1.0" />
<line x1="157.45" y1="373.00" x2="157.45" y2="368.40" stroke="#222" stroke-width="0.9" />
<line x1="154.25" y1="368.40" x2="160.65" y2="368.40" stroke="#222" stroke-width="1.0" />
<circle cx="136.50" cy="342.90" r="1.8" fill="#1f4088" stroke="none" stroke-width="0"/>
<circle cx="136.50" cy="349.70" r="1.8" fill="#1f4088" stroke="none" stroke-width="0"/>
<circle cx="139.70" cy="354.00" r="1.8" fill="#1f4088" stroke="none" stroke-width="0"/>
<circle cx="133.50" cy="355.90" r="1.8" fill="#1f4088" stroke="none" stroke-width="0"/>
<circle cx="139.70" cy="357.50" r="1.8" fill="#1f4088" stroke="none" stroke-width="0"/>
<circle cx="133.50" cy="359.90" r="1.8" fill="#1f4088" stroke="none" stroke-width="0"/>
<circle cx="139.70" cy="361.20" r="1.8" fill="#1f4088" stroke="none" stroke-width="0"/>
<circle cx="136.50" cy="365.10" r="1.8" fill="#1f4088" stroke="none" stroke-width="0"/>
<circle cx="133.50" cy="369.30" r="1.8" fill="#1f4088" stroke="none" stroke-width="0"/>
<circle cx="139.70" cy="368.80" r="1.8" fill="#1f4088" stroke="none" stroke-width="0"/>
<circle cx="133.50" cy="374.30" r="1.8" fill="#1f4088" stroke="none" stroke-width="0"/>
<circle cx="139.70" cy="373.60" r="1.8" fill="#1f4088" stroke="none" stroke-width="0"/>
<circle cx="154.50" cy="359.90" r="1.8" fill="#b3062c" stroke="none" stroke-width="0"/>
<circle cx="160.30" cy="360.10" r="1.8" fill="#b3062c" stroke="none" stroke-width="0"/>
<circle cx="157.50" cy="366.20" r="1.8" fill="#b3062c" stroke="none" stroke-width="0"/>
<circle cx="157.50" cy="373.00" r="1.8" fill="#b3062c" stroke="none" stroke-width="0"/>
<circle cx="157.50" cy="380.20" r="1.8" fill="#b3062c" stroke="none" stroke-width="0"/>
<circle cx="160.30" cy="382.80" r="1.8" fill="#b3062c" stroke="none" stroke-width="0"/>
<circle cx="154.50" cy="384.50" r="1.8" fill="#b3062c" stroke="none" stroke-width="0"/>
<line x1="122.40" y1="330.60" x2="122.40" y2="387.40" stroke="#1c1c1c" stroke-width="1.3" />
<line x1="121.80" y1="386.80" x2="171.20" y2="386.80" stroke="#1c1c1c" stroke-width="1.3" />
<line x1="119.20" y1="386.80" x2="122.40" y2="386.80" stroke="#1c1c1c" stroke-width="0.9" />
<text x="116.00" y="389.30" font-size="6.5" text-anchor="end" fill="#1e1e1e">0</text>
<line x1="119.20" y1="375.96" x2="122.40" y2="375.96" stroke="#1c1c1c" stroke-width="0.9" />
<text x="116.00" y="378.46" font-size="6.5" text-anchor="end" fill="#1e1e1e">1</text>
<line x1="119.20" y1="365.12" x2="122.40" y2="365.12" stroke="#1c1c1c" stroke-width="0.9" />
<text x="116.00" y="367.62" font-size="6.5" text-anchor="end" fill="#1e1e1e">2</text>
<line x1="119.20" y1="354.28" x2="122.40" y2="354.28" stroke="#1c1c1c" stroke-width="0.9" />
<text x="116.00" y="356.78" font-size="6.5" text-anchor="end" fill="#1e1e1e">3</text>
<line x1="119.20" y1="343.44" x2="122.40" y2="343.44" stroke="#1c1c1c" stroke-width="0.9" />
<text x="116.00" y="345.94" font-size="6.5" text-anchor="end" fill="#1e1e1e">4</text>
<line x1="119.20" y1="332.60" x2="122.40" y2="332.60" stroke="#1c1c1c" stroke-width="0.9" />
<text x="116.00" y="335.10" font-size="6.5" text-anchor="end" fill="#1e1e1e">5</text>
<line x1="136.25" y1="386.80" x2="136.25" y2="389.60" stroke="#1c1c1c" stroke-width="1.1" />
<line x1="157.45" y1="386.80" x2="157.45" y2="389.60" stroke="#1c1c1c" stroke-width="1.1" />
<line x1="136.70" y1="330.40" x2="157.40" y2="330.40" stroke="#1a1a1a" stroke-width="1.2" />
<text x="147.05" y="330.10" font-size="5.6" text-anchor="middle" fill="#111">*</text>
<text x="0" y="0" font-size="8.4" fill="#1e1e1e" text-anchor="middle" textLength="54" lengthAdjust="spacingAndGlyphs" transform="translate(107.50,358.20) rotate(-90)">% of myeloid cells</text>
<text x="0.00" y="0.00" font-size="7.4" text-anchor="end" fill="#1e1e1e" textLength="8.2" lengthAdjust="spacingAndGlyphs" transform="translate(139.65,398.10) rotate(-45)">WT</text>
<text x="0" y="0" font-size="7.4" text-anchor="end" fill="#1e1e1e" transform="translate(160.05,397.30) rotate(-45)"><tspan font-style="italic">Flt3l</tspan><tspan font-size="5.0" dy="-2.2"> -/-</tspan></text>
<rect x="210.45" y="364.00" width="13.50" height="22.80" fill="#8b96c4" stroke="none" stroke-width="0"/>
<rect x="231.65" y="382.80" width="13.50" height="4.00" fill="#d68f84" stroke="none" stroke-width="0"/>
<line x1="217.20" y1="364.00" x2="217.20" y2="358.20" stroke="#222" stroke-width="0.9" />
<line x1="214.00" y1="358.20" x2="220.40" y2="358.20" stroke="#222" stroke-width="1.0" />
<circle cx="217.20" cy="337.20" r="1.8" fill="#1f4088" stroke="none" stroke-width="0"/>
<circle cx="217.20" cy="340.00" r="1.8" fill="#1f4088" stroke="none" stroke-width="0"/>
<circle cx="217.20" cy="349.30" r="1.8" fill="#1f4088" stroke="none" stroke-width="0"/>
<circle cx="217.20" cy="358.00" r="1.8" fill="#1f4088" stroke="none" stroke-width="0"/>
<circle cx="211.60" cy="361.00" r="1.8" fill="#1f4088" stroke="none" stroke-width="0"/>
<circle cx="211.60" cy="364.00" r="1.8" fill="#1f4088" stroke="none" stroke-width="0"/>
<circle cx="217.20" cy="362.10" r="1.8" fill="#1f4088" stroke="none" stroke-width="0"/>
<circle cx="211.60" cy="375.50" r="1.8" fill="#1f4088" stroke="none" stroke-width="0"/>
<circle cx="217.20" cy="374.50" r="1.8" fill="#1f4088" stroke="none" stroke-width="0"/>
<circle cx="217.20" cy="377.30" r="1.8" fill="#1f4088" stroke="none" stroke-width="0"/>
<circle cx="222.70" cy="376.90" r="1.8" fill="#1f4088" stroke="none" stroke-width="0"/>
<circle cx="217.20" cy="382.40" r="1.8" fill="#1f4088" stroke="none" stroke-width="0"/>
<circle cx="238.10" cy="373.40" r="1.8" fill="#b3062c" stroke="none" stroke-width="0"/>
<circle cx="240.20" cy="378.30" r="1.8" fill="#b3062c" stroke="none" stroke-width="0"/>
<circle cx="236.50" cy="380.30" r="1.8" fill="#b3062c" stroke="none" stroke-width="0"/>
<circle cx="232.60" cy="385.00" r="1.8" fill="#b3062c" stroke="none" stroke-width="0"/>
<circle cx="235.70" cy="384.20" r="1.8" fill="#b3062c" stroke="none" stroke-width="0"/>
<circle cx="238.40" cy="384.20" r="1.8" fill="#b3062c" stroke="none" stroke-width="0"/>
<circle cx="241.20" cy="384.20" r="1.8" fill="#b3062c" stroke="none" stroke-width="0"/>
<circle cx="244.00" cy="384.50" r="1.8" fill="#b3062c" stroke="none" stroke-width="0"/>
<line x1="203.35" y1="330.60" x2="203.35" y2="387.40" stroke="#1c1c1c" stroke-width="1.3" />
<line x1="202.75" y1="386.80" x2="252.15" y2="386.80" stroke="#1c1c1c" stroke-width="1.3" />
<line x1="200.15" y1="386.80" x2="203.35" y2="386.80" stroke="#1c1c1c" stroke-width="0.9" />
<text x="196.95" y="389.30" font-size="6.5" text-anchor="end" fill="#1e1e1e">0</text>
<line x1="200.15" y1="373.25" x2="203.35" y2="373.25" stroke="#1c1c1c" stroke-width="0.9" />
<text x="196.95" y="375.75" font-size="6.5" text-anchor="end" fill="#1e1e1e">3</text>
<line x1="200.15" y1="359.70" x2="203.35" y2="359.70" stroke="#1c1c1c" stroke-width="0.9" />
<text x="196.95" y="362.20" font-size="6.5" text-anchor="end" fill="#1e1e1e">6</text>
<line x1="200.15" y1="346.15" x2="203.35" y2="346.15" stroke="#1c1c1c" stroke-width="0.9" />
<text x="196.95" y="348.65" font-size="6.5" text-anchor="end" fill="#1e1e1e">9</text>
<line x1="200.15" y1="332.60" x2="203.35" y2="332.60" stroke="#1c1c1c" stroke-width="0.9" />
<text x="196.95" y="335.10" font-size="6.5" text-anchor="end" fill="#1e1e1e">12</text>
<line x1="217.20" y1="386.80" x2="217.20" y2="389.60" stroke="#1c1c1c" stroke-width="1.1" />
<line x1="238.40" y1="386.80" x2="238.40" y2="389.60" stroke="#1c1c1c" stroke-width="1.1" />
<line x1="217.40" y1="330.40" x2="238.80" y2="330.40" stroke="#1a1a1a" stroke-width="1.2" />
<text x="228.10" y="330.10" font-size="5.6" text-anchor="middle" fill="#111">***</text>
<text x="0" y="0" font-size="8.4" fill="#1e1e1e" text-anchor="middle" textLength="54" lengthAdjust="spacingAndGlyphs" transform="translate(186.35,358.20) rotate(-90)">% of myeloid cells</text>
<text x="0.00" y="0.00" font-size="7.4" text-anchor="end" fill="#1e1e1e" textLength="8.2" lengthAdjust="spacingAndGlyphs" transform="translate(220.60,398.10) rotate(-45)">WT</text>
<text x="0" y="0" font-size="7.4" text-anchor="end" fill="#1e1e1e" transform="translate(241.00,397.30) rotate(-45)"><tspan font-style="italic">Flt3l</tspan><tspan font-size="5.0" dy="-2.2"> -/-</tspan></text>
<rect x="291.20" y="364.00" width="13.50" height="22.80" fill="#8b96c4" stroke="none" stroke-width="0"/>
<rect x="312.40" y="372.70" width="13.50" height="14.10" fill="#d68f84" stroke="none" stroke-width="0"/>
<line x1="297.95" y1="364.00" x2="297.95" y2="360.30" stroke="#222" stroke-width="0.9" />
<line x1="294.75" y1="360.30" x2="301.15" y2="360.30" stroke="#222" stroke-width="1.0" />
<circle cx="298.20" cy="334.50" r="1.8" fill="#1f4088" stroke="none" stroke-width="0"/>
<circle cx="298.20" cy="346.10" r="1.8" fill="#1f4088" stroke="none" stroke-width="0"/>
<circle cx="295.00" cy="358.00" r="1.8" fill="#1f4088" stroke="none" stroke-width="0"/>
<circle cx="300.90" cy="357.60" r="1.8" fill="#1f4088" stroke="none" stroke-width="0"/>
<circle cx="298.20" cy="364.00" r="1.8" fill="#1f4088" stroke="none" stroke-width="0"/>
<circle cx="303.70" cy="363.50" r="1.8" fill="#1f4088" stroke="none" stroke-width="0"/>
<circle cx="295.00" cy="367.60" r="1.8" fill="#1f4088" stroke="none" stroke-width="0"/>
<circle cx="300.90" cy="369.00" r="1.8" fill="#1f4088" stroke="none" stroke-width="0"/>
<circle cx="292.60" cy="374.10" r="1.8" fill="#1f4088" stroke="none" stroke-width="0"/>
<circle cx="298.20" cy="375.50" r="1.8" fill="#1f4088" stroke="none" stroke-width="0"/>
<circle cx="303.70" cy="375.50" r="1.8" fill="#1f4088" stroke="none" stroke-width="0"/>
<circle cx="298.20" cy="380.10" r="1.8" fill="#1f4088" stroke="none" stroke-width="0"/>
<circle cx="317.50" cy="359.90" r="1.8" fill="#b3062c" stroke="none" stroke-width="0"/>
<circle cx="321.20" cy="361.30" r="1.8" fill="#b3062c" stroke="none" stroke-width="0"/>
<circle cx="318.90" cy="364.50" r="1.8" fill="#b3062c" stroke="none" stroke-width="0"/>
<circle cx="317.10" cy="369.60" r="1.8" fill="#b3062c" stroke="none" stroke-width="0"/>
<circle cx="321.20" cy="368.20" r="1.8" fill="#b3062c" stroke="none" stroke-width="0"/>
<circle cx="313.60" cy="371.80" r="1.8" fill="#b3062c" stroke="none" stroke-width="0"/>
<circle cx="324.70" cy="371.00" r="1.8" fill="#b3062c" stroke="none" stroke-width="0"/>
<circle cx="317.10" cy="374.50" r="1.8" fill="#b3062c" stroke="none" stroke-width="0"/>
<circle cx="321.20" cy="374.10" r="1.8" fill="#b3062c" stroke="none" stroke-width="0"/>
<circle cx="318.90" cy="379.00" r="1.8" fill="#b3062c" stroke="none" stroke-width="0"/>
<circle cx="318.90" cy="384.20" r="1.8" fill="#b3062c" stroke="none" stroke-width="0"/>
<line x1="284.10" y1="330.60" x2="284.10" y2="387.40" stroke="#1c1c1c" stroke-width="1.3" />
<line x1="283.50" y1="386.80" x2="332.90" y2="386.80" stroke="#1c1c1c" stroke-width="1.3" />
<line x1="280.90" y1="386.80" x2="284.10" y2="386.80" stroke="#1c1c1c" stroke-width="0.9" />
<text x="277.70" y="389.30" font-size="6.5" text-anchor="end" fill="#1e1e1e">0</text>
<line x1="280.90" y1="368.73" x2="284.10" y2="368.73" stroke="#1c1c1c" stroke-width="0.9" />
<text x="277.70" y="371.23" font-size="6.5" text-anchor="end" fill="#1e1e1e">5</text>
<line x1="280.90" y1="350.67" x2="284.10" y2="350.67" stroke="#1c1c1c" stroke-width="0.9" />
<text x="277.70" y="353.17" font-size="6.5" text-anchor="end" fill="#1e1e1e">10</text>
<line x1="280.90" y1="332.60" x2="284.10" y2="332.60" stroke="#1c1c1c" stroke-width="0.9" />
<text x="277.70" y="335.10" font-size="6.5" text-anchor="end" fill="#1e1e1e">15</text>
<line x1="297.95" y1="386.80" x2="297.95" y2="389.60" stroke="#1c1c1c" stroke-width="1.1" />
<line x1="319.15" y1="386.80" x2="319.15" y2="389.60" stroke="#1c1c1c" stroke-width="1.1" />
<line x1="297.90" y1="330.40" x2="319.30" y2="330.40" stroke="#1a1a1a" stroke-width="1.2" />
<text x="308.60" y="328.70" font-size="5.4" text-anchor="middle" fill="#333" style="stroke-width:0.05px">ns</text>
<text x="0" y="0" font-size="8.4" fill="#1e1e1e" text-anchor="middle" textLength="54" lengthAdjust="spacingAndGlyphs" transform="translate(266.20,358.20) rotate(-90)">% of myeloid cells</text>
<text x="0.00" y="0.00" font-size="7.4" text-anchor="end" fill="#1e1e1e" textLength="8.2" lengthAdjust="spacingAndGlyphs" transform="translate(301.35,398.10) rotate(-45)">WT</text>
<text x="0" y="0" font-size="7.4" text-anchor="end" fill="#1e1e1e" transform="translate(321.75,397.30) rotate(-45)"><tspan font-style="italic">Flt3l</tspan><tspan font-size="5.0" dy="-2.2"> -/-</tspan></text>
<rect x="379.55" y="371.80" width="13.50" height="15.00" fill="#8b96c4" stroke="none" stroke-width="0"/>
<rect x="400.75" y="376.90" width="13.50" height="9.90" fill="#d68f84" stroke="none" stroke-width="0"/>
<line x1="386.30" y1="371.80" x2="386.30" y2="367.60" stroke="#222" stroke-width="0.9" />
<line x1="383.10" y1="367.60" x2="389.50" y2="367.60" stroke="#222" stroke-width="1.0" />
<line x1="407.50" y1="376.90" x2="407.50" y2="375.60" stroke="#222" stroke-width="0.9" />
<line x1="404.30" y1="375.60" x2="410.70" y2="375.60" stroke="#222" stroke-width="1.0" />
<circle cx="386.30" cy="340.00" r="1.8" fill="#1f4088" stroke="none" stroke-width="0"/>
<circle cx="386.30" cy="359.30" r="1.8" fill="#1f4088" stroke="none" stroke-width="0"/>
<circle cx="386.30" cy="362.70" r="1.8" fill="#1f4088" stroke="none" stroke-width="0"/>
<circle cx="380.80" cy="372.30" r="1.8" fill="#1f4088" stroke="none" stroke-width="0"/>
<circle cx="391.90" cy="371.80" r="1.8" fill="#1f4088" stroke="none" stroke-width="0"/>
<circle cx="384.40" cy="373.70" r="1.8" fill="#1f4088" stroke="none" stroke-width="0"/>
<circle cx="380.80" cy="376.50" r="1.8" fill="#1f4088" stroke="none" stroke-width="0"/>
<circle cx="384.40" cy="376.90" r="1.8" fill="#1f4088" stroke="none" stroke-width="0"/>
<circle cx="388.50" cy="376.20" r="1.8" fill="#1f4088" stroke="none" stroke-width="0"/>
<circle cx="391.90" cy="375.90" r="1.8" fill="#1f4088" stroke="none" stroke-width="0"/>
<circle cx="388.50" cy="382.40" r="1.8" fill="#1f4088" stroke="none" stroke-width="0"/>
<circle cx="384.40" cy="384.50" r="1.8" fill="#1f4088" stroke="none" stroke-width="0"/>
<circle cx="407.50" cy="368.60" r="1.8" fill="#b3062c" stroke="none" stroke-width="0"/>
<circle cx="409.50" cy="372.30" r="1.8" fill="#b3062c" stroke="none" stroke-width="0"/>
<circle cx="405.40" cy="373.70" r="1.8" fill="#b3062c" stroke="none" stroke-width="0"/>
<circle cx="401.90" cy="377.60" r="1.8" fill="#b3062c" stroke="none" stroke-width="0"/>
<circle cx="413.00" cy="376.20" r="1.8" fill="#b3062c" stroke="none" stroke-width="0"/>
<circle cx="405.70" cy="379.70" r="1.8" fill="#b3062c" stroke="none" stroke-width="0"/>
<circle cx="409.50" cy="379.00" r="1.8" fill="#b3062c" stroke="none" stroke-width="0"/>
<circle cx="401.90" cy="380.60" r="1.8" fill="#b3062c" stroke="none" stroke-width="0"/>
<circle cx="413.00" cy="380.30" r="1.8" fill="#b3062c" stroke="none" stroke-width="0"/>
<circle cx="405.70" cy="384.20" r="1.8" fill="#b3062c" stroke="none" stroke-width="0"/>
<circle cx="409.50" cy="384.20" r="1.8" fill="#b3062c" stroke="none" stroke-width="0"/>
<line x1="372.45" y1="330.60" x2="372.45" y2="387.40" stroke="#1c1c1c" stroke-width="1.3" />
<line x1="371.85" y1="386.80" x2="421.25" y2="386.80" stroke="#1c1c1c" stroke-width="1.3" />
<line x1="369.25" y1="386.80" x2="372.45" y2="386.80" stroke="#1c1c1c" stroke-width="0.9" />
<text x="366.05" y="389.30" font-size="6.5" text-anchor="end" fill="#1e1e1e">0</text>
<line x1="369.25" y1="368.73" x2="372.45" y2="368.73" stroke="#1c1c1c" stroke-width="0.9" />
<text x="366.05" y="371.23" font-size="6.5" text-anchor="end" fill="#1e1e1e">20</text>
<line x1="369.25" y1="350.67" x2="372.45" y2="350.67" stroke="#1c1c1c" stroke-width="0.9" />
<text x="366.05" y="353.17" font-size="6.5" text-anchor="end" fill="#1e1e1e">40</text>
<line x1="369.25" y1="332.60" x2="372.45" y2="332.60" stroke="#1c1c1c" stroke-width="0.9" />
<text x="366.05" y="335.10" font-size="6.5" text-anchor="end" fill="#1e1e1e">60</text>
<line x1="386.30" y1="386.80" x2="386.30" y2="389.60" stroke="#1c1c1c" stroke-width="1.1" />
<line x1="407.50" y1="386.80" x2="407.50" y2="389.60" stroke="#1c1c1c" stroke-width="1.1" />
<line x1="386.90" y1="330.40" x2="406.90" y2="330.40" stroke="#1a1a1a" stroke-width="1.2" />
<text x="396.90" y="328.70" font-size="5.4" text-anchor="middle" fill="#333" style="stroke-width:0.05px">ns</text>
<text x="0" y="0" font-size="8.4" fill="#1e1e1e" text-anchor="middle" textLength="54" lengthAdjust="spacingAndGlyphs" transform="translate(354.25,358.20) rotate(-90)">% of myeloid cells</text>
<text x="0.00" y="0.00" font-size="7.4" text-anchor="end" fill="#1e1e1e" textLength="8.2" lengthAdjust="spacingAndGlyphs" transform="translate(389.70,398.10) rotate(-45)">WT</text>
<text x="0" y="0" font-size="7.4" text-anchor="end" fill="#1e1e1e" transform="translate(410.10,397.30) rotate(-45)"><tspan font-style="italic">Flt3l</tspan><tspan font-size="5.0" dy="-2.2"> -/-</tspan></text>
<rect x="466.20" y="371.80" width="13.50" height="15.00" fill="#8b96c4" stroke="none" stroke-width="0"/>
<rect x="487.40" y="365.10" width="13.50" height="21.70" fill="#d68f84" stroke="none" stroke-width="0"/>
<line x1="494.15" y1="365.10" x2="494.15" y2="361.70" stroke="#222" stroke-width="0.9" />
<line x1="490.95" y1="361.70" x2="497.35" y2="361.70" stroke="#222" stroke-width="1.0" />
<circle cx="472.80" cy="345.10" r="1.8" fill="#1f4088" stroke="none" stroke-width="0"/>
<circle cx="467.20" cy="366.30" r="1.8" fill="#1f4088" stroke="none" stroke-width="0"/>
<circle cx="470.00" cy="368.20" r="1.8" fill="#1f4088" stroke="none" stroke-width="0"/>
<circle cx="472.80" cy="368.60" r="1.8" fill="#1f4088" stroke="none" stroke-width="0"/>
<circle cx="475.50" cy="368.20" r="1.8" fill="#1f4088" stroke="none" stroke-width="0"/>
<circle cx="478.60" cy="365.40" r="1.8" fill="#1f4088" stroke="none" stroke-width="0"/>
<circle cx="475.50" cy="373.40" r="1.8" fill="#1f4088" stroke="none" stroke-width="0"/>
<circle cx="473.70" cy="376.90" r="1.8" fill="#1f4088" stroke="none" stroke-width="0"/>
<circle cx="471.40" cy="379.70" r="1.8" fill="#1f4088" stroke="none" stroke-width="0"/>
<circle cx="474.20" cy="381.70" r="1.8" fill="#1f4088" stroke="none" stroke-width="0"/>
<circle cx="471.40" cy="382.40" r="1.8" fill="#1f4088" stroke="none" stroke-width="0"/>
<circle cx="491.30" cy="352.40" r="1.8" fill="#b3062c" stroke="none" stroke-width="0"/>
<circle cx="496.80" cy="351.60" r="1.8" fill="#b3062c" stroke="none" stroke-width="0"/>
<circle cx="491.30" cy="356.60" r="1.8" fill="#b3062c" stroke="none" stroke-width="0"/>
<circle cx="496.80" cy="356.60" r="1.8" fill="#b3062c" stroke="none" stroke-width="0"/>
<circle cx="488.20" cy="359.30" r="1.8" fill="#b3062c" stroke="none" stroke-width="0"/>
<circle cx="494.00" cy="361.30" r="1.8" fill="#b3062c" stroke="none" stroke-width="0"/>
<circle cx="499.60" cy="359.30" r="1.8" fill="#b3062c" stroke="none" stroke-width="0"/>
<circle cx="488.20" cy="370.70" r="1.8" fill="#b3062c" stroke="none" stroke-width="0"/>
<circle cx="494.00" cy="372.10" r="1.8" fill="#b3062c" stroke="none" stroke-width="0"/>
<circle cx="491.00" cy="376.90" r="1.8" fill="#b3062c" stroke="none" stroke-width="0"/>
<circle cx="496.50" cy="379.00" r="1.8" fill="#b3062c" stroke="none" stroke-width="0"/>
<circle cx="494.00" cy="381.70" r="1.8" fill="#b3062c" stroke="none" stroke-width="0"/>
<line x1="459.10" y1="330.60" x2="459.10" y2="387.40" stroke="#1c1c1c" stroke-width="1.3" />
<line x1="458.50" y1="386.80" x2="507.90" y2="386.80" stroke="#1c1c1c" stroke-width="1.3" />
<line x1="455.90" y1="386.80" x2="459.10" y2="386.80" stroke="#1c1c1c" stroke-width="0.9" />
<text x="452.70" y="389.30" font-size="6.5" text-anchor="end" fill="#1e1e1e">0</text>
<line x1="455.90" y1="373.25" x2="459.10" y2="373.25" stroke="#1c1c1c" stroke-width="0.9" />
<text x="452.70" y="375.75" font-size="6.5" text-anchor="end" fill="#1e1e1e">20</text>
<line x1="455.90" y1="359.70" x2="459.10" y2="359.70" stroke="#1c1c1c" stroke-width="0.9" />
<text x="452.70" y="362.20" font-size="6.5" text-anchor="end" fill="#1e1e1e">40</text>
<line x1="455.90" y1="346.15" x2="459.10" y2="346.15" stroke="#1c1c1c" stroke-width="0.9" />
<text x="452.70" y="348.65" font-size="6.5" text-anchor="end" fill="#1e1e1e">60</text>
<line x1="455.90" y1="332.60" x2="459.10" y2="332.60" stroke="#1c1c1c" stroke-width="0.9" />
<text x="452.70" y="335.10" font-size="6.5" text-anchor="end" fill="#1e1e1e">80</text>
<line x1="472.95" y1="386.80" x2="472.95" y2="389.60" stroke="#1c1c1c" stroke-width="1.1" />
<line x1="494.15" y1="386.80" x2="494.15" y2="389.60" stroke="#1c1c1c" stroke-width="1.1" />
<line x1="473.80" y1="330.40" x2="494.00" y2="330.40" stroke="#1a1a1a" stroke-width="1.2" />
<text x="483.90" y="328.70" font-size="5.4" text-anchor="middle" fill="#333" style="stroke-width:0.05px">ns</text>
<text x="0" y="0" font-size="8.4" fill="#1e1e1e" text-anchor="middle" textLength="54" lengthAdjust="spacingAndGlyphs" transform="translate(440.90,358.20) rotate(-90)">% of myeloid cells</text>
<text x="0.00" y="0.00" font-size="7.4" text-anchor="end" fill="#1e1e1e" textLength="8.2" lengthAdjust="spacingAndGlyphs" transform="translate(476.35,398.10) rotate(-45)">WT</text>
<text x="0" y="0" font-size="7.4" text-anchor="end" fill="#1e1e1e" transform="translate(496.75,397.30) rotate(-45)"><tspan font-style="italic">Flt3l</tspan><tspan font-size="5.0" dy="-2.2"> -/-</tspan></text>
<line x1="45.1" y1="161" x2="45.1" y2="244.35" stroke="#1c1c1c" stroke-width="1.3"/>
<line x1="41.90" y1="241.35" x2="166.60" y2="241.35" stroke="#1c1c1c" stroke-width="1.3" />
<line x1="45.00" y1="241.35" x2="45.00" y2="243.85" stroke="#1c1c1c" stroke-width="0.8" />
<text x="45.00" y="252.95" font-size="6.4" text-anchor="middle" fill="#1e1e1e">0</text>
<line x1="84.75" y1="241.35" x2="84.75" y2="243.85" stroke="#1c1c1c" stroke-width="0.8" />
<text x="84.75" y="252.95" font-size="6.4" text-anchor="middle" fill="#1e1e1e">5</text>
<line x1="124.50" y1="241.35" x2="124.50" y2="243.85" stroke="#1c1c1c" stroke-width="0.8" />
<text x="124.50" y="252.95" font-size="6.4" text-anchor="middle" fill="#1e1e1e">10</text>
<line x1="164.25" y1="241.35" x2="164.25" y2="243.85" stroke="#1c1c1c" stroke-width="0.8" />
<text x="164.25" y="252.95" font-size="6.4" text-anchor="middle" fill="#1e1e1e">15</text>
<line x1="42.10" y1="241.35" x2="45.10" y2="241.35" stroke="#1c1c1c" stroke-width="0.8" />
<text x="39.10" y="243.65" font-size="6.4" text-anchor="end" fill="#1e1e1e">0</text>
<line x1="42.10" y1="222.07" x2="45.10" y2="222.07" stroke="#1c1c1c" stroke-width="0.8" />
<text x="39.10" y="224.38" font-size="6.4" text-anchor="end" fill="#1e1e1e">25</text>
<line x1="42.10" y1="202.80" x2="45.10" y2="202.80" stroke="#1c1c1c" stroke-width="0.8" />
<text x="39.10" y="205.10" font-size="6.4" text-anchor="end" fill="#1e1e1e">50</text>
<line x1="42.10" y1="183.52" x2="45.10" y2="183.52" stroke="#1c1c1c" stroke-width="0.8" />
<text x="39.10" y="185.82" font-size="6.4" text-anchor="end" fill="#1e1e1e">75</text>
<line x1="42.10" y1="164.25" x2="45.10" y2="164.25" stroke="#1c1c1c" stroke-width="0.8" />
<text x="39.10" y="166.55" font-size="6.4" text-anchor="end" fill="#1e1e1e">100</text>
<path d="M52.95,170.67 H52.95 V198.51 H68.85 V215.65 H84.75 V224.22 H108.60 V232.78 H116.55 V241.35" fill="none" stroke="#b82445" stroke-width="1.35"/>
<path d="M45.00,164.25 H52.95 V170.67 H84.75 V183.52 H92.70 V202.80 H108.60 V222.07 H116.55 V228.50 H124.50 V234.93 H132.45 V241.35" fill="none" stroke="#3a5594" stroke-width="1.35"/>
<line x1="108.30" y1="166.90" x2="117.10" y2="166.90" stroke="#3a5594" stroke-width="1.5" />
<line x1="108.30" y1="175.80" x2="117.10" y2="175.80" stroke="#b82445" stroke-width="1.5" />
<text x="120.20" y="169.00" font-size="5.6" text-anchor="start" fill="#1e1e1e" textLength="24.8" lengthAdjust="spacingAndGlyphs">WT (n=12)</text>
<text x="120.2" y="177.9" font-size="5.6" fill="#1e1e1e" textLength="28.8" lengthAdjust="spacingAndGlyphs"><tspan font-style="italic">Flt3l</tspan><tspan font-size="3.8" dy="-2"> -/-</tspan><tspan dy="2"> (n=9)</tspan></text>
<text x="100.50" y="202.10" font-size="4.8" text-anchor="middle" fill="#1e1e1e">*</text>
<text x="106.00" y="264.70" font-size="8.4" text-anchor="middle" fill="#1e1e1e" textLength="60.4" lengthAdjust="spacingAndGlyphs">Days after first death</text>
<text x="0" y="0" font-size="8.4" fill="#1e1e1e" text-anchor="middle" textLength="46" lengthAdjust="spacingAndGlyphs" transform="translate(23.9,200.9) rotate(-90)">Percent survival</text>
<line x1="219.80" y1="164.50" x2="219.80" y2="230.00" stroke="#1c1c1c" stroke-width="1.0" />
<line x1="219.30" y1="229.50" x2="280.00" y2="229.50" stroke="#1c1c1c" stroke-width="1.1" />
<line x1="216.80" y1="229.50" x2="219.80" y2="229.50" stroke="#1c1c1c" stroke-width="0.8" />
<text x="214.30" y="231.70" font-size="6.4" text-anchor="end" fill="#1e1e1e">0</text>
<line x1="216.80" y1="217.10" x2="219.80" y2="217.10" stroke="#1c1c1c" stroke-width="0.8" />
<text x="214.30" y="219.30" font-size="6.4" text-anchor="end" fill="#1e1e1e">10</text>
<line x1="216.80" y1="204.70" x2="219.80" y2="204.70" stroke="#1c1c1c" stroke-width="0.8" />
<text x="214.30" y="206.90" font-size="6.4" text-anchor="end" fill="#1e1e1e">20</text>
<line x1="216.80" y1="192.30" x2="219.80" y2="192.30" stroke="#1c1c1c" stroke-width="0.8" />
<text x="214.30" y="194.50" font-size="6.4" text-anchor="end" fill="#1e1e1e">30</text>
<line x1="216.80" y1="179.90" x2="219.80" y2="179.90" stroke="#1c1c1c" stroke-width="0.8" />
<text x="214.30" y="182.10" font-size="6.4" text-anchor="end" fill="#1e1e1e">40</text>
<line x1="216.80" y1="167.50" x2="219.80" y2="167.50" stroke="#1c1c1c" stroke-width="0.8" />
<text x="214.30" y="169.70" font-size="6.4" text-anchor="end" fill="#1e1e1e">50</text>
<line x1="237.40" y1="229.50" x2="237.40" y2="232.30" stroke="#1c1c1c" stroke-width="1.1" />
<line x1="263.30" y1="229.50" x2="263.30" y2="232.30" stroke="#1c1c1c" stroke-width="1.1" />
<line x1="237.40" y1="229.00" x2="263.30" y2="176.50" stroke="#b1173d" stroke-width="1.1" />
<line x1="237.40" y1="229.00" x2="263.30" y2="205.00" stroke="#b1173d" stroke-width="1.1" />
<line x1="237.40" y1="229.00" x2="263.30" y2="210.90" stroke="#b1173d" stroke-width="1.1" />
<line x1="237.40" y1="229.00" x2="263.30" y2="224.30" stroke="#b1173d" stroke-width="1.1" />
<circle cx="237.40" cy="229.00" r="2.0" fill="none" stroke="#b1173d" stroke-width="1.1"/>
<circle cx="263.30" cy="176.50" r="2.0" fill="none" stroke="#b1173d" stroke-width="1.1"/>
<circle cx="237.40" cy="229.00" r="2.0" fill="none" stroke="#b1173d" stroke-width="1.1"/>
<circle cx="263.30" cy="205.00" r="2.0" fill="none" stroke="#b1173d" stroke-width="1.1"/>
<circle cx="237.40" cy="229.00" r="2.0" fill="none" stroke="#b1173d" stroke-width="1.1"/>
<circle cx="263.30" cy="210.90" r="2.0" fill="none" stroke="#b1173d" stroke-width="1.1"/>
<circle cx="237.40" cy="229.00" r="2.0" fill="none" stroke="#b1173d" stroke-width="1.1"/>
<circle cx="263.30" cy="224.30" r="2.0" fill="none" stroke="#b1173d" stroke-width="1.1"/>
<line x1="237.60" y1="168.30" x2="263.00" y2="168.30" stroke="#1a1a1a" stroke-width="1.2" />
<text x="250.30" y="168.00" font-size="5.6" text-anchor="middle" fill="#111">**</text>
<text x="237.40" y="241.20" font-size="6.4" text-anchor="middle" fill="#1e1e1e" textLength="16" lengthAdjust="spacingAndGlyphs">T-ALL</text>
<text x="263.30" y="241.20" font-size="6.4" text-anchor="middle" fill="#1e1e1e" textLength="16" lengthAdjust="spacingAndGlyphs">T-ALL</text>
<text x="263.70" y="248.80" font-size="6.6" text-anchor="middle" fill="#1e1e1e" textLength="28.2" lengthAdjust="spacingAndGlyphs">+ myeloid</text>
<text x="0" y="0" font-size="8.2" fill="#1e1e1e" text-anchor="middle" textLength="66" lengthAdjust="spacingAndGlyphs" transform="translate(201.60,197.20) rotate(-90)"># of T-ALL cells (x 10<tspan font-size="4.2" dy="-2.6">4</tspan><tspan dy="2.6">)</tspan></text>
<line x1="333.20" y1="164.50" x2="333.20" y2="230.00" stroke="#1c1c1c" stroke-width="1.0" />
<line x1="332.70" y1="229.50" x2="394.30" y2="229.50" stroke="#1c1c1c" stroke-width="1.1" />
<line x1="330.20" y1="229.50" x2="333.20" y2="229.50" stroke="#1c1c1c" stroke-width="0.8" />
<text x="327.70" y="231.70" font-size="6.4" text-anchor="end" fill="#1e1e1e">0</text>
<line x1="330.20" y1="217.10" x2="333.20" y2="217.10" stroke="#1c1c1c" stroke-width="0.8" />
<text x="327.70" y="219.30" font-size="6.4" text-anchor="end" fill="#1e1e1e">20</text>
<line x1="330.20" y1="204.70" x2="333.20" y2="204.70" stroke="#1c1c1c" stroke-width="0.8" />
<text x="327.70" y="206.90" font-size="6.4" text-anchor="end" fill="#1e1e1e">40</text>
<line x1="330.20" y1="192.30" x2="333.20" y2="192.30" stroke="#1c1c1c" stroke-width="0.8" />
<text x="327.70" y="194.50" font-size="6.4" text-anchor="end" fill="#1e1e1e">60</text>
<line x1="330.20" y1="179.90" x2="333.20" y2="179.90" stroke="#1c1c1c" stroke-width="0.8" />
<text x="327.70" y="182.10" font-size="6.4" text-anchor="end" fill="#1e1e1e">80</text>
<line x1="330.20" y1="167.50" x2="333.20" y2="167.50" stroke="#1c1c1c" stroke-width="0.8" />
<text x="327.70" y="169.70" font-size="6.4" text-anchor="end" fill="#1e1e1e">100</text>
<line x1="350.90" y1="229.50" x2="350.90" y2="232.30" stroke="#1c1c1c" stroke-width="1.1" />
<line x1="376.70" y1="229.50" x2="376.70" y2="232.30" stroke="#1c1c1c" stroke-width="1.1" />
<line x1="350.90" y1="222.00" x2="376.70" y2="176.80" stroke="#b1173d" stroke-width="1.1" />
<line x1="350.90" y1="223.60" x2="376.70" y2="184.40" stroke="#b1173d" stroke-width="1.1" />
<line x1="350.90" y1="229.00" x2="376.70" y2="206.10" stroke="#b1173d" stroke-width="1.1" />
<circle cx="350.90" cy="222.00" r="2.0" fill="none" stroke="#b1173d" stroke-width="1.1"/>
<circle cx="376.70" cy="176.80" r="2.0" fill="none" stroke="#b1173d" stroke-width="1.1"/>
<circle cx="350.90" cy="223.60" r="2.0" fill="none" stroke="#b1173d" stroke-width="1.1"/>
<circle cx="376.70" cy="184.40" r="2.0" fill="none" stroke="#b1173d" stroke-width="1.1"/>
<circle cx="350.90" cy="229.00" r="2.0" fill="none" stroke="#b1173d" stroke-width="1.1"/>
<circle cx="376.70" cy="206.10" r="2.0" fill="none" stroke="#b1173d" stroke-width="1.1"/>
<line x1="351.00" y1="168.30" x2="376.60" y2="168.30" stroke="#1a1a1a" stroke-width="1.2" />
<text x="363.80" y="168.00" font-size="5.6" text-anchor="middle" fill="#111">*</text>
<text x="350.90" y="241.20" font-size="6.4" text-anchor="middle" fill="#1e1e1e" textLength="16" lengthAdjust="spacingAndGlyphs">T-ALL</text>
<text x="376.70" y="241.20" font-size="6.4" text-anchor="middle" fill="#1e1e1e" textLength="16" lengthAdjust="spacingAndGlyphs">T-ALL</text>
<text x="377.10" y="248.80" font-size="6.6" text-anchor="middle" fill="#1e1e1e" textLength="28.2" lengthAdjust="spacingAndGlyphs">+ myeloid</text>
<text x="0" y="0" font-size="8.2" fill="#1e1e1e" text-anchor="middle" textLength="56" lengthAdjust="spacingAndGlyphs" transform="translate(311.40,197.50) rotate(-90)">% T-ALL of live cells</text>
</svg>
</body></html>
